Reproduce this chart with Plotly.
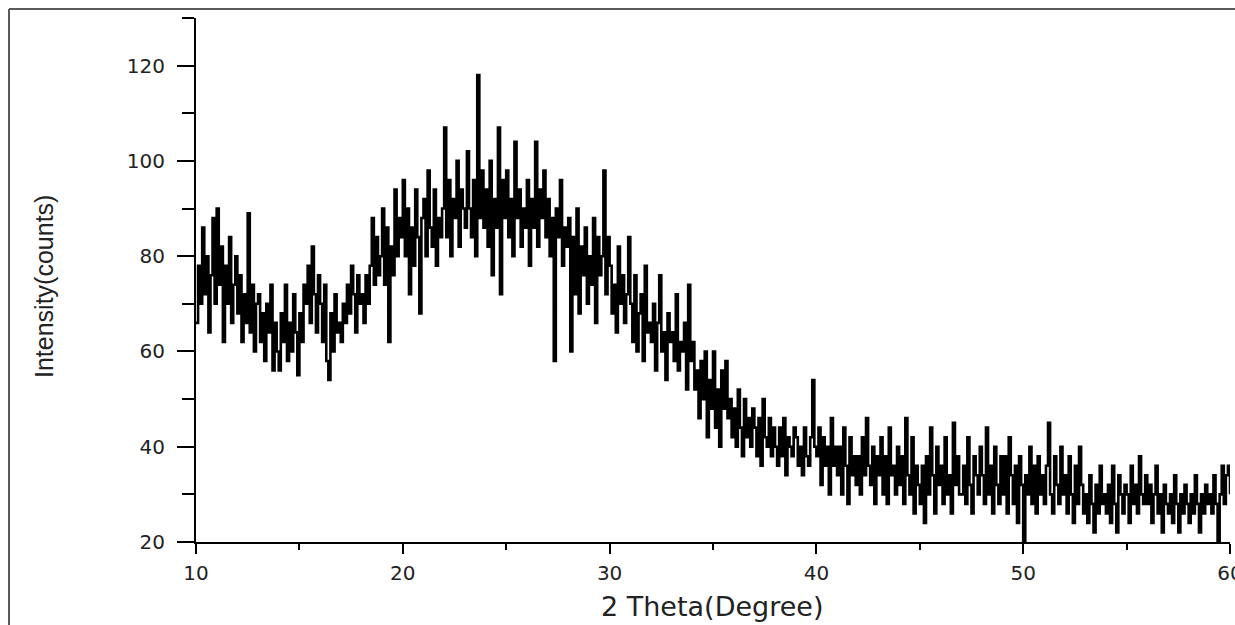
import numpy as np
import plotly.graph_objects as go

# 2-theta scan, 10 to 60 degrees in 0.1 degree steps
two_theta = np.round(np.arange(10.0, 60.01, 0.1), 1).tolist()

# Intensity (counts), one row per degree
intensity = [
    66, 78, 70, 86, 72, 80, 64, 76, 88, 70,   # 10
    90, 74, 82, 62, 78, 70, 84, 66, 74, 80,   # 11
    68, 76, 62, 72, 66, 89, 64, 74, 60, 70,   # 12
    72, 62, 68, 58, 70, 64, 74, 56, 66, 60,   # 13
    56, 68, 62, 74, 58, 66, 60, 72, 64, 55,   # 14
    68, 62, 74, 70, 78, 66, 82, 72, 64, 76,   # 15
    70, 62, 74, 58, 54, 68, 60, 72, 64, 66,   # 16
    62, 70, 66, 74, 68, 78, 72, 64, 76, 70,   # 17
    72, 66, 76, 70, 78, 88, 74, 84, 76, 80,   # 18
    90, 74, 86, 62, 82, 76, 94, 80, 88, 84,   # 19
    96, 80, 90, 72, 86, 78, 94, 84, 68, 88,   # 20
    92, 80, 98, 86, 82, 94, 78, 88, 84, 90,   # 21
    107, 84, 96, 80, 92, 88, 100, 82, 94, 90, # 22
    86, 102, 90, 84, 96, 80, 118, 88, 98, 86, # 23
    94, 82, 100, 76, 92, 86, 107, 72, 96, 88, # 24
    98, 84, 92, 80, 104, 88, 94, 82, 90, 86,  # 25
    96, 78, 92, 86, 104, 82, 94, 88, 98, 84,  # 26
    92, 80, 88, 58, 90, 84, 96, 78, 86, 82,   # 27
    88, 60, 84, 72, 90, 68, 82, 76, 86, 70,   # 28
    80, 74, 88, 66, 84, 76, 80, 98, 72, 84,   # 29
    78, 68, 74, 64, 82, 70, 76, 66, 72, 84,   # 30
    70, 62, 76, 60, 68, 72, 58, 78, 64, 66,   # 31
    62, 70, 56, 66, 76, 60, 64, 54, 68, 62,   # 32
    64, 58, 72, 56, 62, 60, 66, 52, 74, 58,   # 33
    62, 52, 56, 46, 58, 50, 60, 42, 54, 48,   # 34
    60, 44, 52, 40, 56, 48, 58, 46, 50, 42,   # 35
    48, 40, 52, 44, 38, 50, 42, 46, 40, 48,   # 36
    44, 38, 46, 36, 50, 42, 40, 46, 38, 44,   # 37
    40, 36, 44, 38, 46, 34, 42, 40, 38, 44,   # 38
    42, 36, 40, 34, 44, 38, 36, 42, 54, 40,   # 39
    38, 44, 32, 42, 36, 40, 30, 46, 36, 40,   # 40
    34, 40, 30, 44, 36, 28, 42, 34, 38, 32,   # 41
    38, 30, 42, 34, 46, 36, 32, 40, 28, 38,   # 42
    34, 42, 30, 38, 28, 44, 34, 36, 30, 40,   # 43
    32, 38, 28, 46, 34, 30, 42, 26, 36, 32,   # 44
    28, 36, 24, 38, 30, 44, 34, 26, 40, 32,   # 45
    36, 28, 42, 30, 34, 26, 45, 32, 38, 30,   # 46
    30, 36, 28, 42, 32, 26, 38, 34, 30, 40,   # 47
    34, 28, 44, 30, 36, 26, 40, 32, 28, 38,   # 48
    30, 38, 26, 42, 34, 28, 36, 24, 38, 32,   # 49
    20, 34, 30, 40, 28, 36, 26, 38, 30, 34,   # 50
    28, 36, 45, 30, 26, 38, 32, 28, 40, 30,   # 51
    34, 26, 38, 30, 24, 36, 28, 40, 32, 26,   # 52
    30, 24, 34, 28, 22, 32, 26, 36, 28, 30,   # 53
    26, 32, 24, 36, 28, 22, 34, 30, 26, 32,   # 54
    30, 24, 36, 28, 32, 26, 38, 30, 28, 34,   # 55
    28, 32, 24, 30, 36, 26, 30, 22, 32, 28,   # 56
    26, 30, 24, 34, 28, 22, 30, 26, 32, 28,   # 57
    24, 30, 26, 34, 28, 22, 30, 26, 32, 28,   # 58
    30, 26, 34, 28, 20, 30, 36, 28, 34, 36,   # 59
    30,                                       # 60
]

x_ticks = [10, 20, 30, 40, 50, 60]
y_ticks = [20, 40, 60, 80, 100, 120]

W, H = 1235, 625
L, R, T, B = 196, 5, 18, 83
pw, ph = W - L - R, H - T - B


def px_to_paper(px, py):
    return (px - L) / pw, (H - B - py) / ph


fig = go.Figure(
    go.Scatter(
        x=two_theta,
        y=intensity,
        mode="lines",
        line=dict(color="black", width=2.6, shape="hv"),
        hoverinfo="x+y",
    )
)

tick_font = dict(family="DejaVu Sans, Arial, sans-serif", size=20, color="#222")

fig.update_xaxes(
    range=[10, 60],
    tickvals=x_ticks,
    ticktext=[str(v) for v in x_ticks],
    showgrid=False,
    zeroline=False,
    showline=True,
    linecolor="black",
    linewidth=2,
    ticks="outside",
    ticklen=10,
    tickwidth=2,
    tickcolor="black",
    minor=dict(dtick=5, tick0=10, ticks="outside", ticklen=6, tickwidth=2, tickcolor="black"),
    tickfont=tick_font,
    ticklabeloverflow="allow",
    ticklabelstandoff=2,
    automargin=False,
)
fig.update_yaxes(
    range=[20, 130],
    tickvals=y_ticks,
    ticktext=[str(v) for v in y_ticks],
    showgrid=False,
    zeroline=False,
    showline=True,
    linecolor="black",
    linewidth=2,
    ticks="outside",
    ticklen=17,
    tickwidth=2,
    tickcolor="black",
    minor=dict(dtick=10, tick0=20, ticks="outside", ticklen=12, tickwidth=2, tickcolor="black"),
    tickfont=tick_font,
    ticklabelstandoff=8,
    ticklabeloverflow="allow",
    automargin=False,
)

# Outer frame: top and left edges of the figure border
fx0, fy0 = px_to_paper(9, 9)
fx1, _ = px_to_paper(1260, 9)
_, fy1 = px_to_paper(9, 660)
frame_line = dict(color="#5a5a5a", width=2)
fig.add_shape(type="line", xref="paper", yref="paper",
              x0=fx0, y0=fy0, x1=fx1, y1=fy0, line=frame_line, layer="below")
fig.add_shape(type="line", xref="paper", yref="paper",
              x0=fx0, y0=fy0, x1=fx0, y1=fy1, line=frame_line, layer="below")

# Axis titles
ax, ay = px_to_paper(44, 287)
fig.add_annotation(
    text="Intensity(counts)", xref="paper", yref="paper", x=ax, y=ay,
    textangle=-90, showarrow=False, xanchor="center", yanchor="middle",
    font=dict(family="Liberation Sans, Arial, sans-serif", size=25, color="#222"),
)
bx, by = px_to_paper(712, 606)
fig.add_annotation(
    text="2 Theta(Degree)", xref="paper", yref="paper", x=bx, y=by,
    showarrow=False, xanchor="center", yanchor="middle",
    font=dict(family="DejaVu Sans, Arial, sans-serif", size=27, color="#222"),
)

fig.update_layout(
    width=W, height=H,
    margin=dict(l=L, r=R, t=T, b=B, autoexpand=False),
    paper_bgcolor="white",
    plot_bgcolor="white",
    showlegend=False,
    template="none",
)

fig.write_html("out.html", config={"displayModeBar": False})
